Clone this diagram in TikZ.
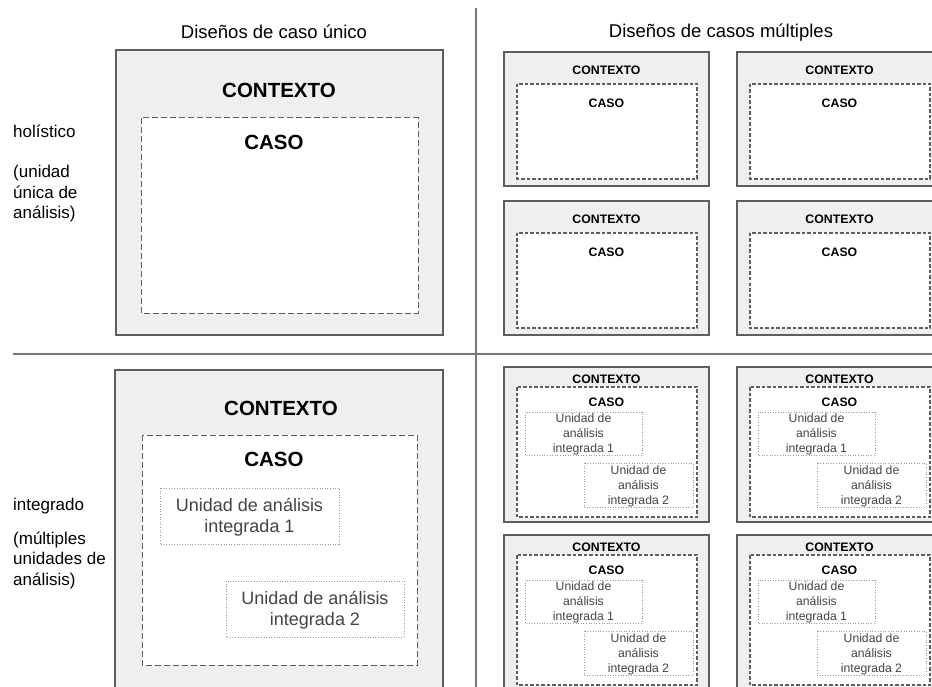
\documentclass[tikz,border=0pt]{standalone}
\usepackage{fontspec}
\setmainfont{Liberation Sans}

\definecolor{ctxfill}{HTML}{EFEFEF}
\definecolor{linegray}{HTML}{5E5E5E}
\definecolor{dotgray}{HTML}{9A9A9A}
\definecolor{unitgray}{HTML}{444444}

\newcommand\hdrfont{\fontsize{18.5}{22}\selectfont}
\newcommand\lblfont{\fontsize{17}{20.5}\selectfont}
\newcommand\bigctxfont{\fontsize{20.5}{24}\selectfont\bfseries}
\newcommand\smallctxfont{\fontsize{12.3}{15}\selectfont\bfseries}
\newcommand\bigunitfont{\fontsize{18}{20.5}\selectfont}
\newcommand\smallunitfont{\fontsize{12.2}{15}\selectfont}

\tikzset{
  divider/.style={draw=linegray!85, line width=1.2pt},
  ctxbox/.style={draw=linegray, fill=ctxfill, line width=1.2pt},
  casobig/.style={draw=linegray, fill=white, line width=1pt, dash pattern=on 6pt off 3pt},
  casosmall/.style={draw=linegray, fill=white, line width=1.1pt, dash pattern=on 3.5pt off 2pt},
  unitbox/.style={draw=dotgray, line width=0.9pt, dash pattern=on 1pt off 1.6pt},
}

\begin{document}
\begin{tikzpicture}[x=1pt,y=-1pt]

\useasboundingbox (0,0) rectangle (932,687); %% page size

%% dividers
\draw[divider] (476,8) -- (476,687);
\draw[divider] (13,354) -- (932,354);

%% column headers
\node[anchor=base, font=\hdrfont] (hdrUnico) at (274,39) {Diseños de caso único};
\node[anchor=base, font=\hdrfont] (hdrMulti) at (721,38) {Diseños de casos múltiples};

%% row labels (base = last line)
\node[anchor=base west, inner sep=0, font=\lblfont] (lblHol) at (13,138) {holístico};
\node[anchor=base west, inner sep=0, font=\lblfont, align=left] (lblHolSub) at (13,219)
  {(unidad\\única de\\análisis)};
\node[anchor=base west, inner sep=0, font=\lblfont] (lblInt) at (13,510) {integrado};
\node[anchor=base west, inner sep=0, font=\lblfont, align=left] (lblIntSub) at (13,585)
  {(múltiples\\unidades de\\análisis)};

%% single case, holistic
\draw[ctxbox] (116,50) rectangle (443,335);
\draw[casobig] (141,118) rectangle (418,313);
\node[anchor=base, font=\bigctxfont] (ctxHol) at (279,98) {CONTEXTO};
\node[anchor=base, font=\bigctxfont] (casoHol) at (274,150) {CASO};

%% single case, embedded
\draw[ctxbox] (115,370) rectangle (443,700);
\draw[casobig] (142,435) rectangle (417,665);
\node[anchor=base, font=\bigctxfont] (ctxInt) at (281,415) {CONTEXTO};
\node[anchor=base, font=\bigctxfont] (casoInt) at (274,466) {CASO};
\draw[unitbox] (160,488) rectangle (339,544);
\draw[unitbox] (226,581) rectangle (404,637);
\node[font=\bigunitfont, text=unitgray, align=center] (unitA) at (249.5,517)
  {Unidad de análisis\\integrada 1};
\node[font=\bigunitfont, text=unitgray, align=center] (unitB) at (315,610)
  {Unidad de análisis\\integrada 2};

%% multiple cases, holistic
\foreach \cx/\col in {504/a,737/b}{
  \foreach \cy/\row in {52/1,201/2}{
    \draw[ctxbox] (\cx,\cy) rectangle +(205,134);
    \draw[casosmall] (\cx+13,\cy+32) rectangle (\cx+193,\cy+127);
    \node[anchor=base, font=\smallctxfont] (ctxH-\col\row) at (\cx+102.5,\cy+22.5) {CONTEXTO};
    \node[anchor=base, font=\smallctxfont] (casoH-\col\row) at (\cx+102.5,\cy+56) {CASO};
  }
}

%% multiple cases, embedded
\foreach \cx/\col in {504/a,737/b}{
  \foreach \cy/\row in {367/1,535/2}{
    \draw[ctxbox] (\cx,\cy) rectangle +(205,155);
    \draw[casosmall] (\cx+13,\cy+20) rectangle (\cx+193,\cy+150);
    \node[anchor=base, font=\smallctxfont] (ctxE-\col\row) at (\cx+102.5,\cy+16.5) {CONTEXTO};
    \node[anchor=base, font=\smallctxfont] (casoE-\col\row) at (\cx+102.5,\cy+39.5) {CASO};
    \draw[unitbox] (\cx+21,\cy+45) rectangle (\cx+138,\cy+88);
    \draw[unitbox] (\cx+80,\cy+96) rectangle (\cx+189,\cy+140);
    \node[font=\smallunitfont, text=unitgray, align=center] (uA-\col\row) at (\cx+79.5,\cy+67)
      {Unidad de\\análisis\\integrada 1};
    \node[font=\smallunitfont, text=unitgray, align=center] (uB-\col\row) at (\cx+134.5,\cy+119)
      {Unidad de\\análisis\\integrada 2};
  }
}

\end{tikzpicture}
\end{document}
